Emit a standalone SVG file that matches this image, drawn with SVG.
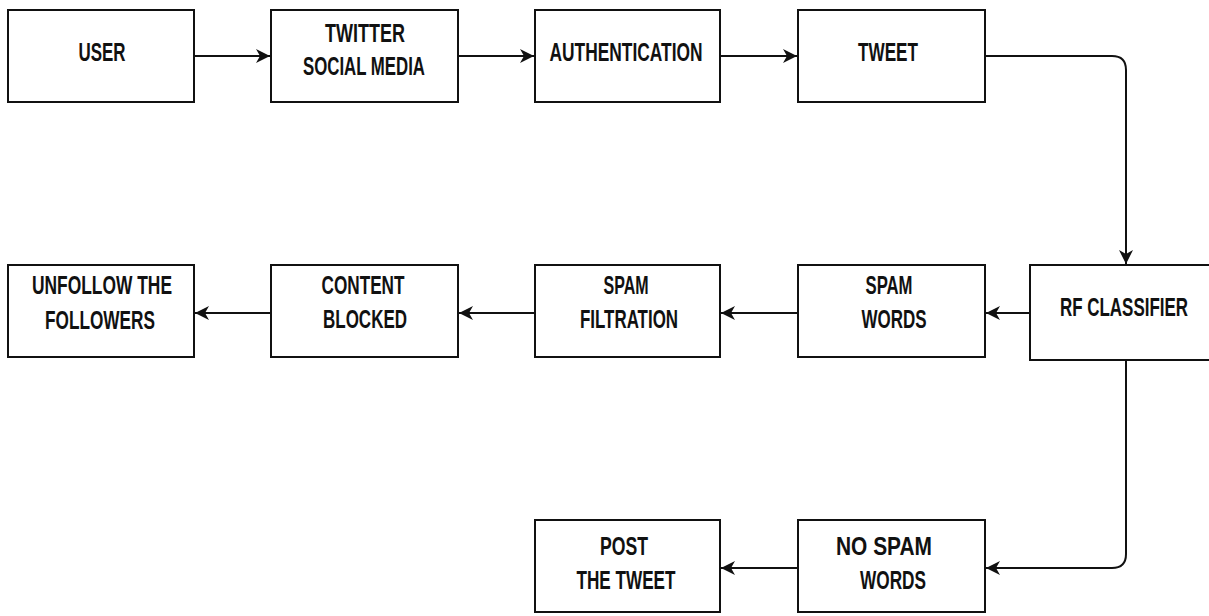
<svg xmlns="http://www.w3.org/2000/svg" width="1209" height="616" viewBox="0 0 1209 616">
<style>
.box{fill:#fff;stroke:#111;stroke-width:2}
.t{font-family:"Liberation Sans",Arial,sans-serif;font-size:25px;font-weight:bold;fill:#111;text-anchor:middle;dominant-baseline:central}
.c{fill:none;stroke:#111;stroke-width:2}
</style>
<defs>
<marker id="ah" markerWidth="16" markerHeight="14" refX="14" refY="7" orient="auto" markerUnits="userSpaceOnUse">
<path d="M0,0 L14,7 L0,14 L4,7 Z" fill="#111"/>
</marker>
</defs>
<rect width="1209" height="616" fill="#fff"/>
<g id="connectors">
<path class="c" d="M194,56 H270" marker-end="url(#ah)"/>
<path class="c" d="M458,56 H534" marker-end="url(#ah)"/>
<path class="c" d="M720,56 H797" marker-end="url(#ah)"/>
<path class="c" d="M985,56 H1112 Q1126,56 1126,70 V264" marker-end="url(#ah)"/>
<path class="c" d="M1030,313 H986" marker-end="url(#ah)"/>
<path class="c" d="M798,313 H721" marker-end="url(#ah)"/>
<path class="c" d="M535,313 H459" marker-end="url(#ah)"/>
<path class="c" d="M271,313 H195" marker-end="url(#ah)"/>
<path class="c" d="M1126,360 V554 Q1126,568 1112,568 H986" marker-end="url(#ah)"/>
<path class="c" d="M798,568 H721" marker-end="url(#ah)"/>
</g>
<g id="user"><rect class="box" x="8" y="10" width="186" height="92"/><text class="t" x="102" y="52" textLength="47" lengthAdjust="spacingAndGlyphs">USER</text></g>
<g id="twitter"><rect class="box" x="271" y="10" width="187" height="92"/><text class="t" x="365" y="33" textLength="80" lengthAdjust="spacingAndGlyphs">TWITTER</text><text class="t" x="364" y="66" textLength="122" lengthAdjust="spacingAndGlyphs">SOCIAL MEDIA</text></g>
<g id="authentication"><rect class="box" x="535" y="10" width="185" height="92"/><text class="t" x="626" y="52" textLength="153" lengthAdjust="spacingAndGlyphs">AUTHENTICATION</text></g>
<g id="tweet"><rect class="box" x="798" y="10" width="187" height="92"/><text class="t" x="888" y="52" textLength="60" lengthAdjust="spacingAndGlyphs">TWEET</text></g>
<g id="unfollow"><rect class="box" x="8" y="265" width="186" height="92"/><text class="t" x="102" y="285" textLength="140" lengthAdjust="spacingAndGlyphs">UNFOLLOW THE</text><text class="t" x="100" y="320" textLength="110" lengthAdjust="spacingAndGlyphs">FOLLOWERS</text></g>
<g id="content-blocked"><rect class="box" x="271" y="265" width="187" height="92"/><text class="t" x="363" y="285" textLength="83" lengthAdjust="spacingAndGlyphs">CONTENT</text><text class="t" x="365" y="319" textLength="84" lengthAdjust="spacingAndGlyphs">BLOCKED</text></g>
<g id="spam-filtration"><rect class="box" x="535" y="265" width="185" height="92"/><text class="t" x="626" y="285" textLength="45" lengthAdjust="spacingAndGlyphs">SPAM</text><text class="t" x="629" y="319" textLength="98" lengthAdjust="spacingAndGlyphs">FILTRATION</text></g>
<g id="spam-words"><rect class="box" x="798" y="265" width="187" height="92"/><text class="t" x="889" y="285" textLength="47" lengthAdjust="spacingAndGlyphs">SPAM</text><text class="t" x="894" y="319" textLength="65" lengthAdjust="spacingAndGlyphs">WORDS</text></g>
<g id="rf-classifier"><rect class="box" x="1030" y="265" width="181" height="95"/><text class="t" x="1124" y="307" textLength="128" lengthAdjust="spacingAndGlyphs">RF CLASSIFIER</text></g>
<g id="post-tweet"><rect class="box" x="535" y="520" width="185" height="92"/><text class="t" x="624" y="546" textLength="48" lengthAdjust="spacingAndGlyphs">POST</text><text class="t" x="626" y="580" textLength="99" lengthAdjust="spacingAndGlyphs">THE TWEET</text></g>
<g id="no-spam-words"><rect class="box" x="798" y="520" width="187" height="92"/><text class="t" x="884" y="546" textLength="96" lengthAdjust="spacingAndGlyphs">NO SPAM</text><text class="t" x="893" y="580" textLength="66" lengthAdjust="spacingAndGlyphs">WORDS</text></g>
</svg>
